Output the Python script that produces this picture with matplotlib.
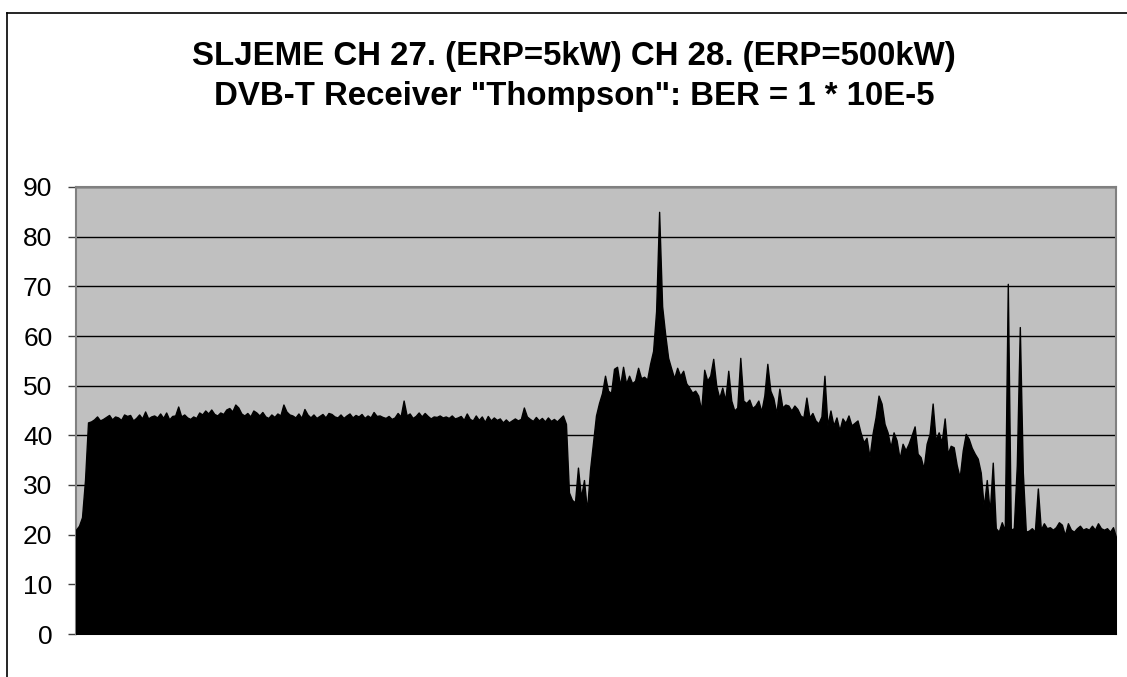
import matplotlib
matplotlib.use("Agg")
import matplotlib.pyplot as plt
from matplotlib.lines import Line2D

plt.rcParams['font.family'] = ['Liberation Sans', 'DejaVu Sans']

title_lines = ['SLJEME CH 27. (ERP=5kW) CH 28. (ERP=500kW)',
               'DVB-T Receiver "Thompson": BER = 1 * 10E-5']
y_ticks = [0, 10, 20, 30, 40, 50, 60, 70, 80, 90]

level_a = [21, 21.8, 23.5, 31, 42.6, 42.8, 43.2, 43.8, 43.0, 43.3, 43.7, 44.1, 43.2, 43.8, 43.6, 43.1,
           44.2, 43.9, 44.1, 43.0, 43.5, 44.2, 43.4, 44.8, 43.4, 43.8, 44.0, 43.6, 44.4, 43.5, 44.6, 43.2,
           43.9, 44.0, 45.8, 43.8, 44.2, 43.6, 43.3, 43.8, 43.5, 44.6, 44.2, 45.0, 44.4, 45.2, 44.3, 44.0,
           44.6, 44.3, 45.2, 45.5, 44.8, 46.2, 45.6, 44.4, 44.0, 44.5, 43.8, 45.0, 44.6, 44.0, 44.7, 43.8,
           43.5, 44.2, 43.7, 44.4, 44.0, 46.2, 44.8, 44.2, 44.0, 43.6, 44.4, 43.5, 45.3, 44.2, 43.6, 44.2,
           43.5, 43.9, 44.3, 43.6, 44.5, 44.3, 43.8, 43.6, 44.2, 43.5, 44.0, 44.4, 43.6, 44.1, 43.8, 44.3]
level_b = [43.5, 44.0, 43.6, 44.7, 43.9, 44.0, 43.7, 43.5, 43.9, 43.3, 43.6, 44.5, 43.8, 47.0, 44.0, 44.4,
           43.5, 43.9, 44.6, 43.8, 44.5, 43.9, 43.4, 43.8, 43.7, 44.0, 43.6, 43.8, 43.5, 44.0, 43.4, 43.6,
           43.9, 43.1, 44.4, 43.3, 43.0, 44.0, 43.1, 43.8, 42.7, 43.9, 43.0, 43.6, 43.1, 43.4, 42.6, 43.2,
           42.6, 43.0, 43.4, 43.0, 43.3, 45.6, 43.8, 43.3, 42.9, 43.7, 43.0, 43.5, 42.8, 43.6, 42.9, 43.3,
           42.8, 43.4, 44.0, 42.3]
level_c = [28.5, 27.0, 26.5, 33.5, 27.5, 31.0, 24.8, 33.0, 38.5, 44.0, 46.5, 48.5, 52.0, 49.0, 48.5, 53.4,
           53.8, 50.0, 53.8, 50.4, 52.0, 50.5, 51.0, 53.6, 51.5, 51.8, 51.2, 54.4, 57.0, 65.0, 85.0, 66.0,
           60.4, 55.6, 53.5, 51.5, 53.6, 52.0, 53.0, 50.5, 49.6, 48.6, 49.0, 48.0, 45.0, 53.2, 51.0, 52.0,
           55.4, 50.0, 47.5, 49.6, 47.0, 53.0, 47.0, 45.0, 45.6, 55.6, 47.0, 46.5, 47.2, 45.5, 46.0, 47.0,
           44.8, 48.0, 54.4, 49.0, 47.5, 44.4, 49.4, 45.6, 46.2, 46.0, 45.0, 46.0, 45.3, 44.0, 43.6, 47.6,
           43.6, 44.5, 43.0, 42.4, 43.8, 52.0, 42.0, 45.0, 42.0, 43.6, 41.0, 43.4, 42.5, 44.0, 42.0, 42.5]
level_d = [43.0, 40.6, 38.6, 39.5, 35.6, 40.3, 43.6, 48.0, 46.4, 42.3, 40.6, 37.6, 40.6, 39.0, 35.3, 38.3,
           37.0, 38.3, 40.0, 41.8, 36.3, 35.6, 33.3, 38.3, 40.3, 46.4, 39.0, 40.6, 38.6, 43.4, 36.3, 37.9,
           37.6, 34.0, 31.5, 36.9, 40.3, 39.3, 37.5, 36.3, 35.3, 32.5, 25.5, 31.0, 24.5, 34.5, 21.3, 20.6,
           22.5, 20.8, 70.5, 21.0, 21.3, 34.0, 61.8, 32.5, 20.6, 20.8, 21.3, 20.6, 29.3, 21.0, 22.3, 21.3,
           21.5, 21.0, 21.5, 22.5, 22.0, 19.9, 22.3, 21.0, 20.6, 21.3, 21.8, 21.0, 21.3, 21.0, 21.8, 21.0,
           22.3, 21.3, 21.0, 21.3, 20.6, 21.5, 19.5]

values = level_a + level_b + level_c + level_d
idx = list(range(len(values)))

W, H = 1127, 677
fig = plt.figure(figsize=(W / 100, H / 100), dpi=100)
fig.patch.set_facecolor('white')

ax = fig.add_axes([76 / W, (H - 634) / H, (1116 - 76) / W, (634 - 187) / H])
ax.set_facecolor('#C0C0C0')
ax.fill_between(idx, 0, values, color='black', linewidth=1.0, edgecolor='black', zorder=3)
ax.set_xlim(0, len(values) - 1)
ax.set_ylim(0, 90)
ax.set_yticks(y_ticks)
ax.set_yticklabels([str(v) for v in y_ticks], fontsize=19)
ax.set_xticks([])
ax.grid(axis='y', color='black', linewidth=1.0, zorder=1)
ax.set_axisbelow(True)
ax.tick_params(axis='y', direction='out', length=6, width=1, color='#404040', pad=11)
for side in ['left', 'right', 'top', 'bottom']:
    ax.spines[side].set_color('#808080')
    ax.spines[side].set_linewidth(1.5)

fig.text(574 / W, 1 - 56 / H, title_lines[0], ha='center', va='center',
         fontsize=23.8, fontweight='bold')
fig.text(574 / W, 1 - 97 / H, title_lines[1], ha='center', va='center',
         fontsize=23.8, fontweight='bold')

fig.add_artist(Line2D([7 / W, 1.0], [1 - 13 / H, 1 - 13 / H], color='black', linewidth=1.2,
                      transform=fig.transFigure))
fig.add_artist(Line2D([7 / W, 7 / W], [1 - 13 / H, 0.0], color='black', linewidth=1.2,
                      transform=fig.transFigure))

fig.savefig('out.png', dpi=100)
